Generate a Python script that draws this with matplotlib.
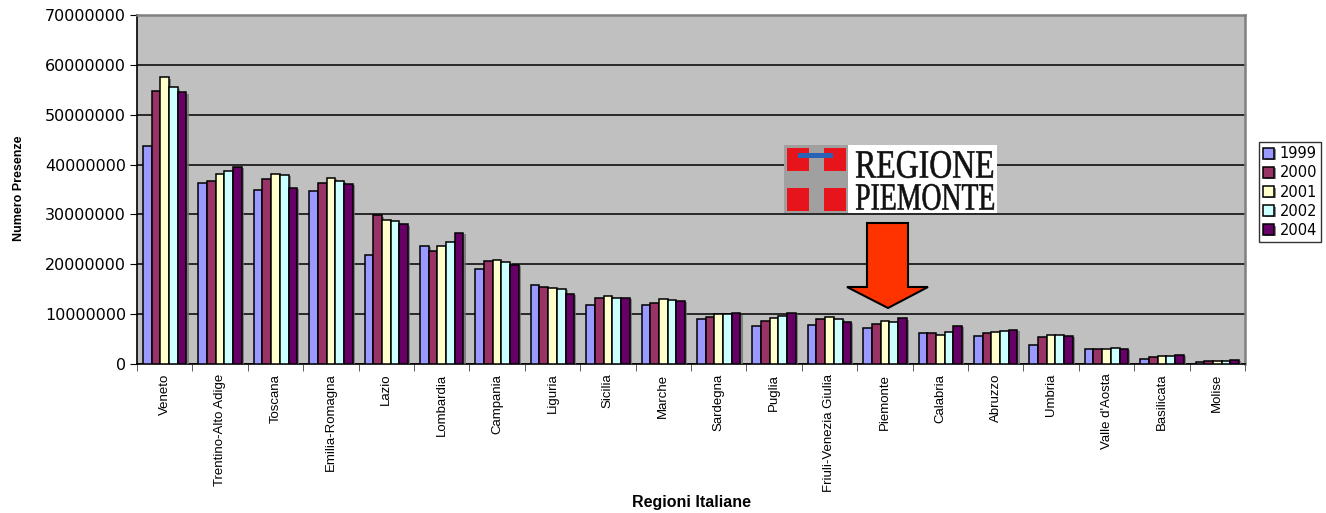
#!/usr/bin/env python3
import numpy as np
import matplotlib
matplotlib.use("Agg")
import matplotlib.pyplot as plt
import matplotlib.patheffects as pe
from matplotlib.patches import Rectangle, Polygon, PathPatch
from matplotlib.textpath import TextPath
from matplotlib.font_manager import FontProperties
from matplotlib.transforms import Affine2D, IdentityTransform
from matplotlib.ticker import FuncFormatter

W, H = 1326, 513

regioni = ["Veneto", "Trentino-Alto Adige", "Toscana", "Emilia-Romagna", "Lazio",
           "Lombardia", "Campania", "Liguria", "Sicilia", "Marche", "Sardegna",
           "Puglia", "Friuli-Venezia Giulia", "Piemonte", "Calabria", "Abruzzo",
           "Umbria", "Valle d'Aosta", "Basilicata", "Molise"]
anni = ["1999", "2000", "2001", "2002", "2004"]

# presenze per anno (milioni)
p1999 = [43.8, 36.3, 34.9, 34.7, 21.9, 23.7, 19.1, 15.8, 11.9, 11.9,
         9.0, 7.7, 7.9, 7.2, 6.2, 5.7, 3.9, 3.1, 1.1, 0.5]
p2000 = [54.7, 36.7, 37.2, 36.3, 29.8, 22.7, 20.6, 15.4, 13.3, 12.3,
         9.4, 8.6, 9.1, 8.1, 6.2, 6.2, 5.5, 3.1, 1.4, 0.6]
p2001 = [57.5, 38.2, 38.1, 37.3, 28.9, 23.7, 20.9, 15.2, 13.7, 13.1,
         10.1, 9.2, 9.5, 8.6, 5.9, 6.5, 5.9, 3.1, 1.7, 0.7]
p2002 = [55.5, 38.7, 37.9, 36.7, 28.6, 24.4, 20.5, 15.1, 13.3, 12.9,
         10.1, 9.7, 9.1, 8.5, 6.5, 6.7, 5.9, 3.2, 1.7, 0.7]
p2004 = [54.5, 39.5, 35.4, 36.2, 28.0, 26.3, 19.9, 14.1, 13.3, 12.7,
         10.2, 10.3, 8.5, 9.2, 7.6, 6.9, 5.7, 3.1, 1.9, 0.8]
serie = [p1999, p2000, p2001, p2002, p2004]
colori = ["#9999FF", "#993366", "#FFFFCC", "#CCFFFF", "#660066"]
yticks = [0, 10000000, 20000000, 30000000, 40000000, 50000000, 60000000, 70000000]


def px(x, y):
    """pixel (from top-left) -> figure fraction"""
    return x / W, 1 - y / H


def stretched_text(fig, s, x0, y0, x1, y1, family="Liberation Serif"):
    """draw text squeezed into a pixel box, like the pasted logo"""
    tp = TextPath((0, 0), s, size=1, prop=FontProperties(family=family))
    bb = tp.get_extents()
    tr = (Affine2D().translate(-bb.x0, -bb.y0)
          .scale((x1 - x0) / bb.width, (y1 - y0) / bb.height)
          .translate(x0, H - y1))
    fig.patches.append(PathPatch(tr.transform_path(tp), transform=IdentityTransform(),
                                 facecolor="#111111", edgecolor="#111111", linewidth=0.4,
                                 figure=fig))


fig = plt.figure(figsize=(W / 100, H / 100), dpi=100)
ax = fig.add_axes([137 / W, 1 - 364 / H, (1245 - 137) / W, (364 - 15) / H])
ax.set_facecolor("#C0C0C0")

x = np.arange(len(regioni))
bw = 0.157
shadow = [pe.SimplePatchShadow(offset=(1.5, -1), shadow_rgbFace="#707070", alpha=0.8), pe.Normal()]
for i, (vals, col, anno) in enumerate(zip(serie, colori, anni)):
    ax.bar(x + (i - 2) * bw, np.array(vals) * 1e6, width=bw, color=col,
           edgecolor="black", linewidth=1.1, label=anno, zorder=3, path_effects=shadow)

ax.set_xlim(-0.5, len(regioni) - 0.5)
ax.set_ylim(0, 70000000)
ax.set_yticks(yticks)
ax.yaxis.set_major_formatter(FuncFormatter(lambda v, p: f"{int(v)}"))
ax.grid(axis="y", color="black", linewidth=1.1, zorder=1)
ax.set_axisbelow(True)

ax.set_xticks(x)
ax.set_xticklabels(regioni, rotation=90, ha="center", va="top",
                   family="Liberation Sans", fontsize=9.5)
ax.set_xticks(np.arange(len(regioni) + 1) - 0.5, minor=True)
ax.tick_params(axis="x", which="major", length=0, pad=7)
ax.tick_params(axis="x", which="minor", length=5, color="#404040", direction="out")
ax.tick_params(axis="y", length=5, direction="out", labelsize=11.5, pad=3)
for lab in ax.get_yticklabels():
    lab.set_family("DejaVu Sans")

for s in ["left", "bottom"]:
    ax.spines[s].set_color("black")
    ax.spines[s].set_linewidth(1.2)
for s in ["top", "right"]:
    ax.spines[s].set_color("#808080")
    ax.spines[s].set_linewidth(1.8)

fig.text(19 / W, 1 - 188 / H, "Numero Presenze", rotation=90, ha="center", va="center",
         family="Liberation Sans", fontweight="bold", fontsize=9)
fig.text(691 / W, 1 - 502 / H, "Regioni Italiane", ha="center", va="center",
         family="Liberation Sans", fontweight="bold", fontsize=11.5)

fig.legend(loc="upper left", bbox_to_anchor=px(1259, 142), frameon=True, fancybox=False,
           edgecolor="black", prop={"family": "DejaVu Sans", "size": 10.5},
           handlelength=0.75, handleheight=0.75, handletextpad=0.35, borderpad=0.3,
           labelspacing=0.28, borderaxespad=0)
fig.legends[0].get_frame().set_linewidth(1.0)

# logo Regione Piemonte
gx0, gy0 = px(784, 213)
fig.patches.append(Rectangle((gx0, gy0), 64 / W, 68 / H, transform=fig.transFigure,
                             facecolor="#A0A0A0", edgecolor="none", figure=fig))
wx0, wy0 = px(848, 213)
fig.patches.append(Rectangle((wx0, wy0), 149 / W, 68 / H, transform=fig.transFigure,
                             facecolor="white", edgecolor="none", figure=fig))
for sx in (787, 824):
    for sy in (171, 211):
        rx, ry = px(sx, sy)
        fig.patches.append(Rectangle((rx, ry), 22 / W, 23 / H, transform=fig.transFigure,
                                     facecolor="#E8141C", edgecolor="none", figure=fig))
bx, by = px(798, 158)
fig.patches.append(Rectangle((bx, by), 35 / W, 5 / H, transform=fig.transFigure,
                             facecolor="#2A63B5", edgecolor="none", figure=fig))
stretched_text(fig, "REGIONE", 856, 151, 993, 178)
stretched_text(fig, "PIEMONTE", 856, 184, 994, 210)

# freccia rossa
freccia = [(867, 223), (908, 223), (908, 287), (928, 287), (888, 308),
           (847, 287), (867, 287)]
fig.patches.append(Polygon([px(a, b) for a, b in freccia], closed=True,
                           transform=fig.transFigure, facecolor="#FF3300",
                           edgecolor="black", linewidth=1.5, figure=fig, zorder=5))

fig.savefig("out.png", dpi=100)
